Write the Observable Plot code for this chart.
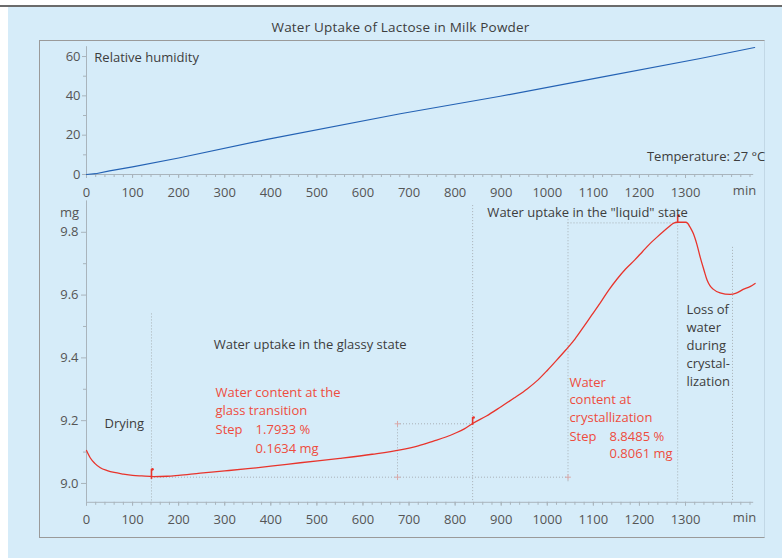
<!DOCTYPE html>
<html><head><meta charset="utf-8">
<script src="https://cdn.jsdelivr.net/npm/d3@7"></script>
<script src="https://cdn.jsdelivr.net/npm/@observablehq/plot@0.6"></script>
<style>
html,body{margin:0;padding:0;background:#fff;}
#wrap{position:relative;width:782px;height:558px;overflow:hidden;background:#fff;}
#bg{position:absolute;left:8px;top:7px;width:774px;height:551px;background:#d6ecf9;}
#topline{position:absolute;left:0;top:5px;width:782px;height:2px;background:#6b6b6b;}
#frame{position:absolute;left:39px;top:40px;width:726px;height:498px;border:1px solid #9a9a9a;border-right-color:#c2d8e6;box-sizing:border-box;}
#title{position:absolute;left:0;width:801px;top:19px;text-align:center;font:13.5px "Open Sans",sans-serif;color:#3d3d3d;line-height:17px;letter-spacing:0.2px;}
#wrap svg{position:absolute;left:0;top:0;}
</style>
</head><body>
<div id="wrap">
<div id="bg"></div><div id="topline"></div><div id="frame"></div>
<div id="title">Water Uptake of Lactose in Milk Powder</div>
</div>
<script>
// ---- data ----
const rhTime = [0, 20, 50, 100, 200, 392, 681, 898, 1115, 1332, 1450];
const rhPct  = [0, 0.4, 1.8, 3.9, 8.4, 17.9, 30.9, 39.8, 49.4, 59.0, 64.6];

const massTime = [0, 8, 18, 30, 45, 60, 80, 100, 120, 146, 175, 200, 247, 300, 350, 400, 464, 550, 620, 681, 720, 753, 780, 800, 820, 837, 868, 898, 928, 957, 980, 1000, 1020, 1040, 1060, 1078, 1096, 1115, 1133, 1152, 1170, 1190, 1207, 1223, 1237, 1250, 1262, 1273, 1282, 1300, 1305, 1310, 1317, 1325, 1332, 1340, 1347, 1353, 1360, 1375, 1397, 1410, 1425, 1440, 1451];
const massMg   = [9.105, 9.082, 9.064, 9.05, 9.041, 9.035, 9.03, 9.026, 9.024, 9.022, 9.023, 9.026, 9.033, 9.04, 9.047, 9.055, 9.066, 9.08, 9.093, 9.107, 9.12, 9.135, 9.148, 9.16, 9.174, 9.19, 9.215, 9.243, 9.272, 9.302, 9.33, 9.36, 9.392, 9.425, 9.46, 9.497, 9.535, 9.575, 9.615, 9.652, 9.683, 9.712, 9.739, 9.764, 9.783, 9.80, 9.815, 9.828, 9.832, 9.832, 9.828, 9.816, 9.796, 9.76, 9.72, 9.68, 9.647, 9.63, 9.619, 9.607, 9.602, 9.606, 9.618, 9.627, 9.637];

const xTickLabels = [0, 100, 200, 300, 400, 500, 600, 700, 800, 900, 1000, 1100, 1200, 1300];
const xMinorTicks = d3.range(0, 1441, 20);
const rhTicks = [0, 20, 40, 60];
const rhMinor = [10, 30, 50];
const mgTicks = [9.0, 9.2, 9.4, 9.6, 9.8];
const mgMinor = [9.1, 9.3, 9.5, 9.7];

// evaluation steps (onset markers)
const stepTime = [141, 838, 1283];
const stepLow  = [9.013, 9.185, 9.831];
const stepHigh = [9.045, 9.21, 9.853];

// dotted guide lines
const guideVx  = [141, 675, 838, 1045, 1283, 1402];
const guideVy1 = [9.54, 9.19, 9.885, 9.84, 9.83, 9.752];
const guideVy2 = [8.94, 9.02, 8.94, 9.0, 8.94, 8.94];
const guideHy  = [9.02, 9.19, 9.83];
const guideHx1 = [141, 675, 1045];
const guideHx2 = [1045, 838, 1283];
const crossX = [675, 675, 1045];
const crossY = [9.19, 9.02, 9.02];

// ---- layout ----
const W = 782, H = 558;
const xDomain = [0, 1448];
const ML = 86, MR = 28.8;
const FONT = "Open Sans, sans-serif";
const FS = 13;
const AX = "#a9b4bc", TXT = "#3d3d3d", RED = "#e8342c", REDT = "#ee4c3e", GUIDE = "#a8b0b6";
const intFmt = d => String(d);

const rh = rhTime.map((t, i) => ({t, v: rhPct[i]}));
const mass = massTime.map((t, i) => ({t, v: massMg[i]}));
const steps = stepTime.map((t, i) => ({t, lo: stepLow[i], hi: stepHigh[i]}));
const gv = guideVx.map((t, i) => ({t, y1: guideVy1[i], y2: guideVy2[i]}));
const gh = guideHy.map((v, i) => ({v, x1: guideHx1[i], x2: guideHx2[i]}));
const cross = crossX.map((t, i) => ({t, v: crossY[i]}));

const topPlot = Plot.plot({
  width: W, height: H,
  marginLeft: ML, marginRight: MR, marginTop: 46.2, marginBottom: 384,
  x: {domain: xDomain}, y: {domain: [0, 65]},
  style: {background: "transparent", fontFamily: FONT, fontSize: FS + "px", color: "#555"},
  marks: [
    Plot.ruleX([0], {stroke: AX}),
    Plot.ruleY([0], {stroke: AX}),
    Plot.axisX({ticks: xMinorTicks, tickSize: 3, stroke: AX, tickFormat: () => "", label: null}),
    Plot.axisX({ticks: xTickLabels, tickSize: 4, tickPadding: 9, stroke: AX, tickFormat: intFmt, label: null}),
    Plot.axisY({ticks: rhMinor, tickSize: 3, stroke: AX, tickFormat: () => "", label: null}),
    Plot.axisY({ticks: rhTicks, tickSize: 4, tickPadding: 2, stroke: AX, tickFormat: intFmt, label: null}),
    Plot.text(["min"], {x: 1428, frameAnchor: "bottom", dy: 20, fill: "#555", fontSize: FS}),
    Plot.line(rh, {x: "t", y: "v", stroke: "#2462b4", strokeWidth: 1.2}),
    Plot.text(["Relative humidity"], {x: 17, y: 59.5, textAnchor: "start", fill: TXT, fontSize: FS}),
    Plot.text(["Temperature: 27 °C"], {x: 1473, y: 9.15, textAnchor: "end", fill: TXT, fontSize: FS})
  ]
});

const notes = [
  {t: 870, v: 9.863, s: "Water uptake in the \"liquid\" state", c: TXT},
  {t: 276, v: 9.443, s: "Water uptake in the glassy state", c: TXT},
  {t: 39, v: 9.191, s: "Drying", c: TXT},
  {t: 280, v: 9.290, s: "Water content at the", c: REDT},
  {t: 280, v: 9.232, s: "glass transition", c: REDT},
  {t: 280, v: 9.172, s: "Step", c: REDT},
  {t: 367, v: 9.172, s: "1.7933 %", c: REDT},
  {t: 367, v: 9.111, s: "0.1634 mg", c: REDT},
  {t: 1048, v: 9.320, s: "Water", c: REDT},
  {t: 1048, v: 9.265, s: "content at", c: REDT},
  {t: 1048, v: 9.210, s: "crystallization", c: REDT},
  {t: 1048, v: 9.150, s: "Step", c: REDT},
  {t: 1135, v: 9.150, s: "8.8485 %", c: REDT},
  {t: 1135, v: 9.095, s: "0.8061 mg", c: REDT},
  {t: 1302, v: 9.554, s: "Loss of", c: TXT},
  {t: 1302, v: 9.497, s: "water", c: TXT},
  {t: 1302, v: 9.439, s: "during", c: TXT},
  {t: 1302, v: 9.382, s: "crystal-", c: TXT},
  {t: 1302, v: 9.325, s: "lization", c: TXT}
];

const botPlot = Plot.plot({
  width: W, height: H,
  marginLeft: ML, marginRight: MR, marginTop: 200.4, marginBottom: 56.2,
  x: {domain: xDomain}, y: {domain: [8.94, 9.9]},
  style: {background: "transparent", fontFamily: FONT, fontSize: FS + "px", color: "#555"},
  marks: [
    Plot.ruleX([0], {stroke: AX}),
    Plot.ruleY([8.94], {stroke: AX}),
    Plot.axisX({ticks: xMinorTicks, tickSize: 3, stroke: AX, tickFormat: () => "", label: null}),
    Plot.axisX({ticks: xTickLabels, tickSize: 4, tickPadding: 8, stroke: AX, tickFormat: intFmt, label: null}),
    Plot.axisY({ticks: mgMinor, tickSize: 3, stroke: AX, tickFormat: () => "", label: null}),
    Plot.axisY({ticks: mgTicks, tickSize: 5, tickPadding: 3, stroke: AX, tickFormat: d3.format(".1f"), label: null}),
    Plot.text(["min"], {x: 1428, frameAnchor: "bottom", dy: 20, fill: "#555", fontSize: FS}),
    Plot.text(["mg"], {x: 0, frameAnchor: "top", dx: -17, dy: 7, fill: "#555", fontSize: FS}),
    Plot.ruleX(gv, {x: "t", y1: "y1", y2: "y2", stroke: GUIDE, strokeDasharray: "1,2"}),
    Plot.ruleY(gh, {y: "v", x1: "x1", x2: "x2", stroke: GUIDE, strokeDasharray: "1,2"}),
    Plot.dot(cross, {x: "t", y: "v", symbol: "plus", r: 2, stroke: "#d9a8a8", strokeWidth: 1}),
    Plot.line(mass, {x: "t", y: "v", stroke: RED, strokeWidth: 1.3, curve: "monotone-x"}),
    Plot.ruleX(steps, {x: "t", y1: "lo", y2: "hi", stroke: RED, strokeWidth: 1.6}),
    Plot.dot(steps, {x: "t", y: "hi", r: 1.3, fill: RED, dx: 1}),
    Plot.text(notes, {x: "t", y: "v", text: "s", fill: "c", textAnchor: "start", fontSize: FS})
  ]
});

const wrap = document.getElementById("wrap");
wrap.appendChild(topPlot);
wrap.appendChild(botPlot);
</script>
</body></html>
